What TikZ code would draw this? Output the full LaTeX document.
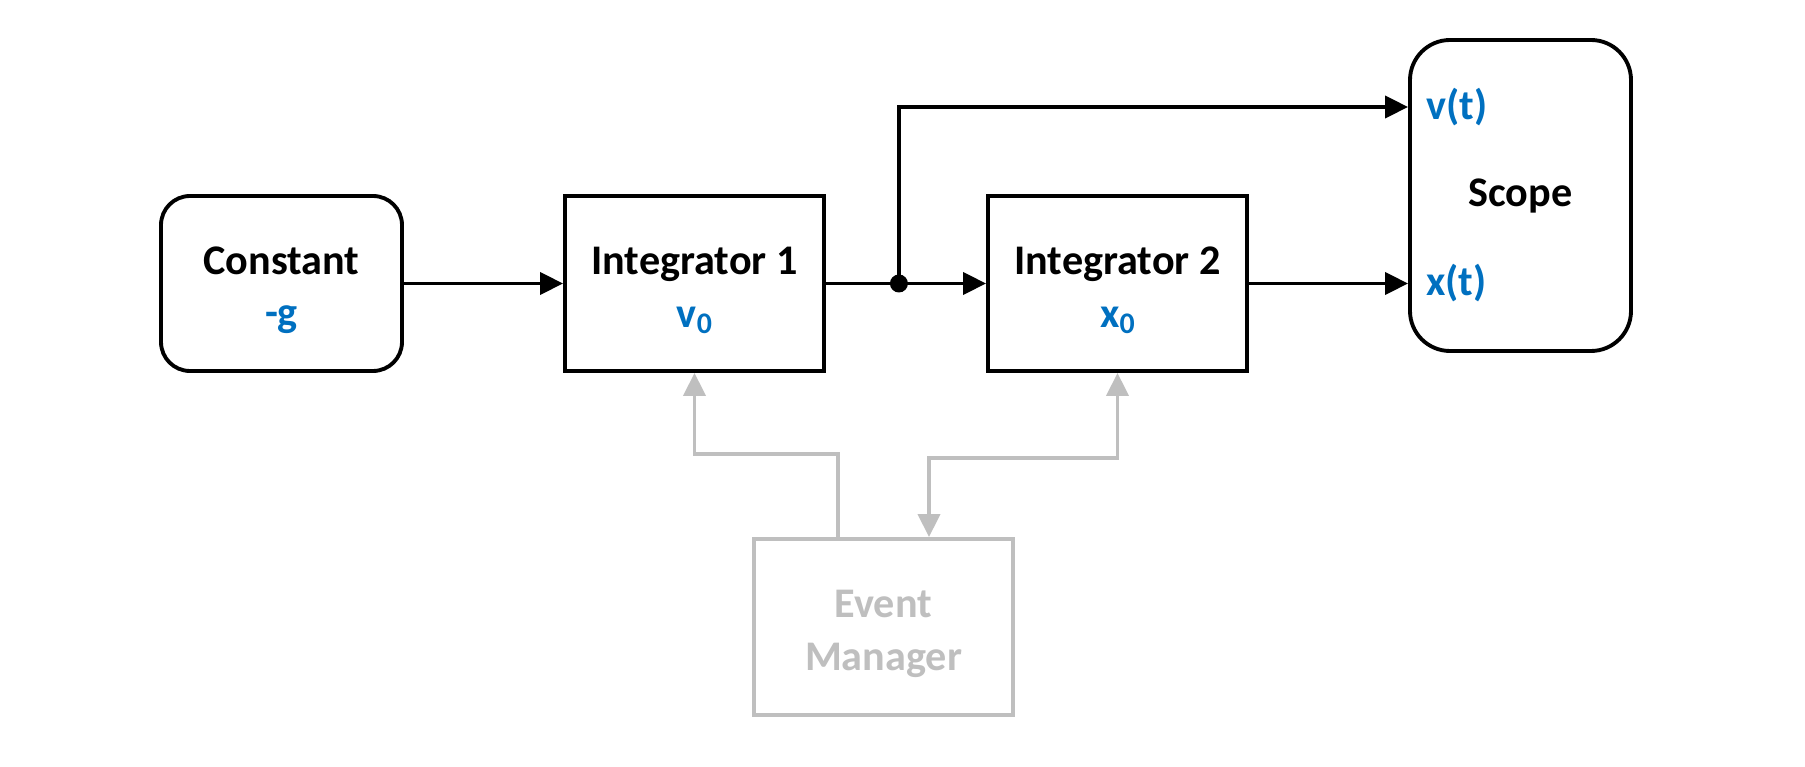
\documentclass[tikz,border=0pt]{standalone}
\usepackage{fontspec}
\setmainfont{Carlito}
\usetikzlibrary{arrows.meta, positioning, calc}
\definecolor{portblue}{HTML}{0070C0}
\definecolor{evgray}{HTML}{BFBFBF}
\newcommand{\subzero}{\raisebox{-0.3ex}{\fontsize{17}{17}\selectfont 0}}
\newcommand{\topstrut}{\rule{0pt}{0.82cm}}

\begin{document}
\begin{tikzpicture}[
    block/.style={rectangle, draw, line width=2.2pt, align=center, minimum width=5.18cm, minimum height=3.5cm, fill=white, font=\fontsize{24}{30}\selectfont\bfseries},
    roundblock/.style={block, rounded corners=0.58cm},
    port/.style={inner sep=0pt, text=portblue, font=\fontsize{24}{30}\selectfont\bfseries},
    dot/.style={circle, fill, inner sep=0pt, minimum size=0.36cm},
    arrow/.style={-{Triangle[length=0.46cm, width=0.44cm]}, line width=2.2pt},
    grayarrow/.style={arrow, draw=evgray},
    grayboth/.style={{Triangle[length=0.46cm, width=0.44cm]}-{Triangle[length=0.46cm, width=0.44cm]}, line width=2.2pt, draw=evgray}
]
\useasboundingbox (0,0) rectangle (36.1,-15.34);

% 1. Main chain
\node[roundblock, minimum width=4.82cm] (const) at (5.63,-5.67) {\topstrut Constant\\\textcolor{portblue}{-g}};
\node[block] (int1) at (13.89,-5.67) {\topstrut Integrator 1\\\textcolor{portblue}{v\subzero}};
\node[block] (int2) at (22.35,-5.67) {\topstrut Integrator 2\\\textcolor{portblue}{x\subzero}};

% 2. Scope and its inputs
\node[roundblock, rounded corners=0.8cm, minimum width=4.42cm, minimum height=6.22cm] (scope) at (30.41,-3.91) {\raisebox{-0.08cm}{Scope}};
\coordinate (vin) at (scope.west |- 0,-2.14);
\coordinate (xin) at (int2.east -| scope.west);
\node[port, right=0.36cm of vin] (vlabel) {v(t)};
\node[port, right=0.36cm of xin] (xlabel) {x(t)};

% 3. Event manager
\node[block, draw=evgray, text=evgray, minimum height=3.52cm] (em) at (17.67,-12.54) {\topstrut Event\\Manager};
\coordinate (emout) at ([xshift=-0.91cm]em.north);
\coordinate (emin) at ([xshift=0.91cm]em.north);

% 4. Branch point
\node[dot] (split) at ([xshift=1.46cm]int1.east) {};

% 5. Connections (Arrows)
\draw[arrow] (const) -- (int1);
\draw[line width=2.2pt] (int1) -- (split.center);
\draw[arrow] (split.center) -- (int2);
\draw[arrow] (split.center) |- (vin);
\draw[arrow] (int2) -- (xin);

% Event connections
\draw[grayarrow] (emout) -- ++(0,1.66) -| (int1.south);
\draw[grayboth] (int2.south) -- ++(0,-1.7) -| (emin);

\end{tikzpicture}
\end{document}
